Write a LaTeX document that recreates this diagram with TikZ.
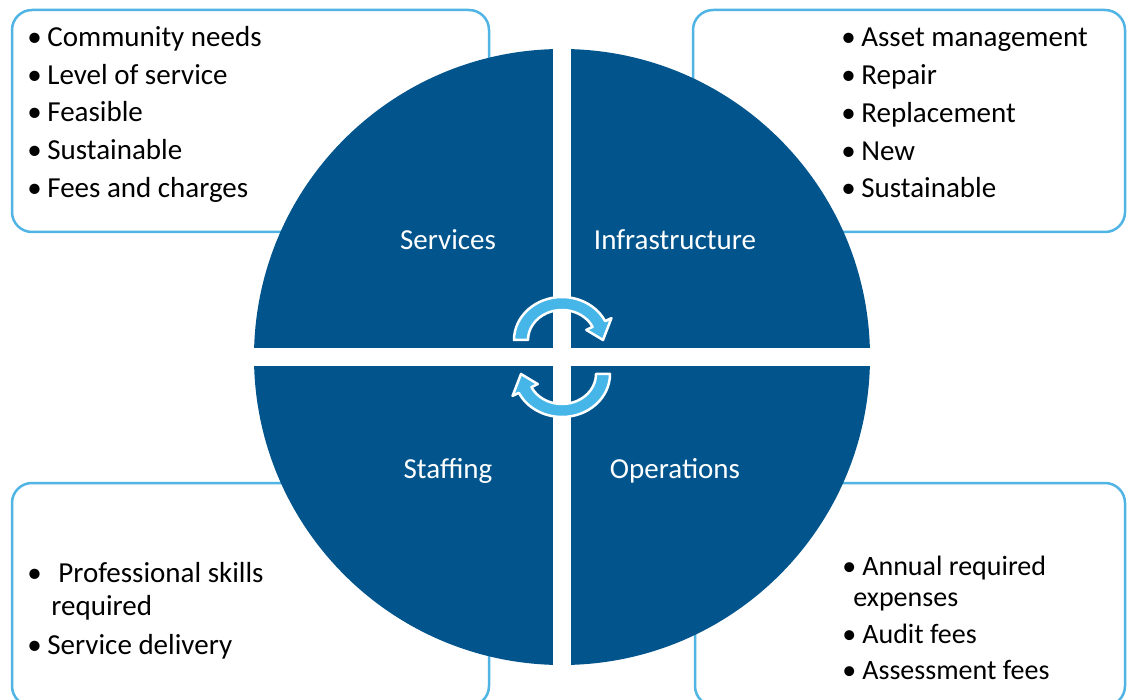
\documentclass[tikz,border=0pt]{standalone}
\usepackage{fontspec}
\setmainfont{Carlito}
\usetikzlibrary{positioning}

\definecolor{quadblue}{RGB}{2,85,140}
\definecolor{edgeblue}{RGB}{80,180,228}
\definecolor{arrowblue}{RGB}{70,182,232}

\newcommand{\bul}{\makebox[20pt][l]{\textbullet}}
% one bent arrow, drawn round the origin of its scope
\newcommand{\cyclearrow}{%
  \filldraw[arrowfill] (180:48 and 43) arc[start angle=180, end angle=334, x radius=48, y radius=43]
    -- (334:55 and 50) -- (0:41 and 37) -- (334:27 and 23) -- (334:34 and 30)
    arc[start angle=334, end angle=180, x radius=34, y radius=30] -- cycle;}

\tikzset{every picture/.style={line width=0.75pt}}
\tikzset{
  listbox/.style={draw=edgeblue, line width=2.5, fill=white, rounded corners=20},
  listtext/.style={inner sep=0pt, align=left, text=black, font=\fontsize{29}{37.7}\selectfont},
  quadlabel/.style={inner sep=0pt, anchor=base, text=white, font=\fontsize{29}{34}\selectfont},
  arrowfill/.style={fill=arrowblue, draw=white, line width=2.5, line join=round}
}

\begin{document}
\begin{tikzpicture}[x=1pt,y=1pt,yscale=-1,xscale=1]
\useasboundingbox (0,0) rectangle (1127,700);

%Boxes behind the circle
\draw[listbox] (12,10) rectangle (489,232);
\draw[listbox] (693,10) rectangle (1125,232);
\draw[listbox] (12,483) rectangle (489,706);
\draw[listbox] (695,483) rectangle (1125,706);

%Circle cut in four
\begin{scope}
\clip (562,357) circle[radius=308];
\fill[quadblue] (0,0) rectangle (553,348);
\fill[quadblue] (571,0) rectangle (1127,348);
\fill[quadblue] (0,366) rectangle (553,700);
\fill[quadblue] (571,366) rectangle (1127,700);
\end{scope}

%Cycle arrows
\begin{scope}[shift={(562,340)}]
\cyclearrow
\end{scope}
\begin{scope}[shift={(562,374)}, rotate=180]
\cyclearrow
\end{scope}

% Quadrant labels
\node[quadlabel] (services) at (448,250) {Services};
\node[quadlabel] (infra) at (675,250) {Infrastructure};
\node[quadlabel] (staffing) at (448,478) {Staffing};
\node[quadlabel] (operations) at (675,478) {Operations};

% Text lists
\node[listtext, anchor=north west] (servlist) at (27,26)
  {\bul Community needs\\ \bul Level of service\\ \bul Feasible\\ \bul Sustainable\\ \bul Fees and charges};
\node[listtext, anchor=north west] (infralist) at (841,28)
  {\bul Asset management\\ \bul Repair\\ \bul Replacement\\ \bul New\\ \bul Sustainable};
\node[listtext, anchor=north west, font=\fontsize{29}{33}\selectfont] (stafflist) at (27,562)
  {\bul\hspace{11pt}Professional skills\\ \hspace{24pt}required\\[6pt] \bul Service delivery};
\node[listtext, anchor=north west, font=\fontsize{28}{31}\selectfont] (operlist) at (842,556)
  {\bul Annual required\\ \hspace{11pt}expenses\\[6pt] \bul Audit fees\\[5pt] \bul Assessment fees};

\end{tikzpicture}
\end{document}
